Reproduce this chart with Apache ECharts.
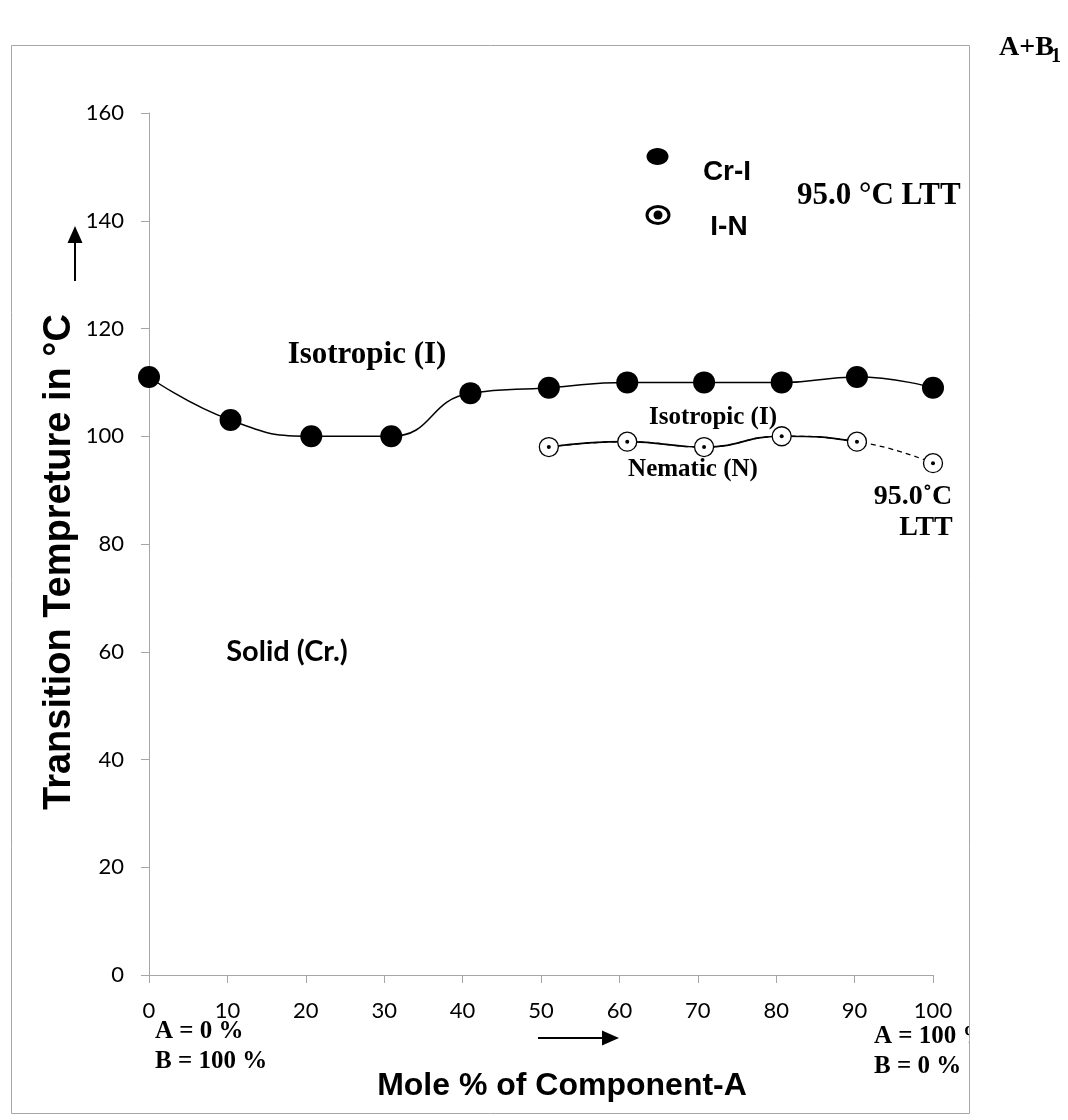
<!DOCTYPE html>
<html><head><meta charset="utf-8">
<script src="https://cdn.jsdelivr.net/npm/echarts@6/dist/echarts.min.js"></script>
<style>html,body{margin:0;padding:0;background:#fff}#c{width:1068px;height:1120px}</style>
</head><body><div id="c"></div>
<script>
// ---- data ----
const crX = [0, 10.4, 20.7, 30.9, 41, 51, 61, 70.8, 80.7, 90.3, 100];
const crY = [111, 103, 100, 100, 108, 109, 110, 110, 110, 111, 109];
const inX = [51, 61, 70.8, 80.7, 90.3, 100];
const inY = [98, 99, 98, 100, 99, 95];
const xTickLabels = ['0','10','20','30','40','50','60','70','80','90','100'];
const yTickLabels = ['0','20','40','60','80','100','120','140','160'];
const lttBoundaryX = 90.3; // last solid I-N point, dashed beyond

const crPts = crX.map((x, i) => [x, crY[i]]);
const inPts = inX.map((x, i) => [x, inY[i]]);

const SERIF = '"Liberation Serif","Times New Roman",serif';
const SANS = '"Liberation Sans",Arial,sans-serif';
const CAL = 'Lato,"Noto Sans",sans-serif';
const axisGray = '#a6a6a6';

function txt(text, x, y, font, align, extra) {
  return Object.assign({
    type: 'text', x: x, y: y, z: 50,
    style: { text: text, font: font, fill: '#000', align: align || 'center', verticalAlign: 'middle' }
  }, extra || {});
}

const chart = echarts.init(document.getElementById('c'), null, { renderer: 'canvas' });
chart.setOption({
  backgroundColor: '#fff',
  animation: false,
  grid: { left: 149, right: 135, top: 113, bottom: 145 },
  xAxis: {
    type: 'value', min: Number(xTickLabels[0]), max: Number(xTickLabels[xTickLabels.length - 1]),
    interval: Number(xTickLabels[1]) - Number(xTickLabels[0]),
    splitLine: { show: false },
    axisLine: { lineStyle: { color: axisGray, width: 1 } },
    axisTick: { show: true, length: 8, lineStyle: { color: axisGray } },
    axisLabel: { color: '#000', fontFamily: CAL, fontSize: 22, margin: 25 }
  },
  yAxis: {
    type: 'value', min: Number(yTickLabels[0]), max: Number(yTickLabels[yTickLabels.length - 1]),
    interval: Number(yTickLabels[1]) - Number(yTickLabels[0]),
    splitLine: { show: false },
    axisLine: { show: true, lineStyle: { color: axisGray, width: 1 } },
    axisTick: { show: true, length: 8, lineStyle: { color: axisGray } },
    axisLabel: { color: '#000', fontFamily: CAL, fontSize: 22, margin: 25 }
  },
  series: [
    {
      name: 'Cr-I', type: 'line', data: crPts, smooth: 0.5,
      symbol: 'circle', symbolSize: 22, z: 3,
      itemStyle: { color: '#000' },
      lineStyle: { color: '#000', width: 1.5 }
    },
    {
      name: 'I-N dashed', type: 'line', data: inPts, smooth: 0.5,
      showSymbol: false, symbol: 'none', z: 2,
      lineStyle: { color: '#000', width: 1.3, type: [5, 4] }
    },
    {
      name: 'I-N', type: 'line', data: inPts, smooth: 0.5,
      showSymbol: false, symbol: 'none', z: 2,
      lineStyle: { color: '#000', width: 1.7 }
    },
    {
      name: 'I-N marker', type: 'scatter', data: inPts, symbol: 'circle', symbolSize: 19, z: 4,
      itemStyle: { color: '#fff', borderColor: '#000', borderWidth: 1.3, opacity: 1 }
    },
    {
      name: 'I-N dot', type: 'scatter', data: inPts, symbol: 'circle', symbolSize: 4, z: 5,
      itemStyle: { color: '#000', opacity: 1 }
    }
  ],
  graphic: [
    // legend
    { type: 'ellipse', z: 50, shape: { cx: 657.5, cy: 156.5, rx: 11, ry: 8.5 }, style: { fill: '#000' } },
    txt('Cr-I', 727, 172, 'bold 28px ' + SANS),
    { type: 'ellipse', z: 50, shape: { cx: 658, cy: 215, rx: 11, ry: 8.5 }, style: { fill: '#fff', stroke: '#000', lineWidth: 3 } },
    { type: 'circle', z: 51, shape: { cx: 658, cy: 215, r: 4.5 }, style: { fill: '#000' } },
    txt('I-N', 729, 227, 'bold 28px ' + SANS),
    txt('95.0 °C LTT', 797, 196, 'bold 31px ' + SERIF, 'left'),
    txt('A+B', 999, 48, 'bold 28px ' + SERIF, 'left'),
    txt('1', 1051, 57, 'bold 20px ' + SERIF, 'left'),
    // region labels
    txt('Isotropic (I)', 367, 355, 'bold 31px ' + SERIF),
    txt('Solid (Cr.)', 287, 652, 'bold 29px ' + CAL),
    txt('Isotropic (I)', 713, 418, 'bold 25px ' + SERIF),
    txt('Nematic (N)', 693, 470, 'bold 25px ' + SERIF),
    txt('95.0˚C', 913, 497, 'bold 28px ' + SERIF),
    txt('LTT', 926, 528, 'bold 28px ' + SERIF),
    // composition labels
    txt('A = 0 %', 155, 1032, 'bold 25px ' + SERIF, 'left'),
    txt('B = 100 %', 155, 1062, 'bold 25px ' + SERIF, 'left'),
    txt('A = 100 %', 874, 1037, 'bold 25px ' + SERIF, 'left'),
    txt('B = 0 %', 874, 1067, 'bold 25px ' + SERIF, 'left'),
    // axis titles
    txt('Mole % of Component-A', 562, 1086, 'bold 32px ' + SANS),
    txt('Transition Tempreture in °C', 60, 562, 'bold 38px ' + SANS, 'center', { rotation: Math.PI / 2 }),
    // arrows
    { type: 'line', z: 50, shape: { x1: 75, y1: 281, x2: 75, y2: 240 }, style: { stroke: '#000', lineWidth: 2 } },
    { type: 'polygon', z: 50, shape: { points: [[75, 226], [67.5, 243], [82.5, 243]] }, style: { fill: '#000' } },
    { type: 'line', z: 50, shape: { x1: 538, y1: 1038, x2: 605, y2: 1038 }, style: { stroke: '#000', lineWidth: 2 } },
    { type: 'polygon', z: 50, shape: { points: [[619, 1038], [602, 1030.5], [602, 1045.5]] }, style: { fill: '#000' } },
    // clip of the outer frame and frame
    { type: 'rect', z: 90, shape: { x: 970, y: 1015, width: 98, height: 42 }, style: { fill: '#fff' } },
    { type: 'rect', z: 95, shape: { x: 11.5, y: 45.5, width: 958, height: 1068 }, style: { fill: 'none', stroke: '#a6a6a6', lineWidth: 1 } }
  ]
});

// Solid I-N line only up to the last solid point: transparent beyond (dashed series shows through)
const bx = chart.convertToPixel({ gridIndex: 0 }, [lttBoundaryX, 0])[0];
const W = chart.getWidth();
const off = bx / W;
chart.setOption({
  series: [{}, {}, {
    lineStyle: {
      color: new echarts.graphic.LinearGradient(0, 0, W, 0, [
        { offset: 0, color: '#000' }, { offset: off, color: '#000' },
        { offset: off, color: 'rgba(0,0,0,0)' }, { offset: 1, color: 'rgba(0,0,0,0)' }
      ], true)
    }
  }]
});
</script></body></html>
